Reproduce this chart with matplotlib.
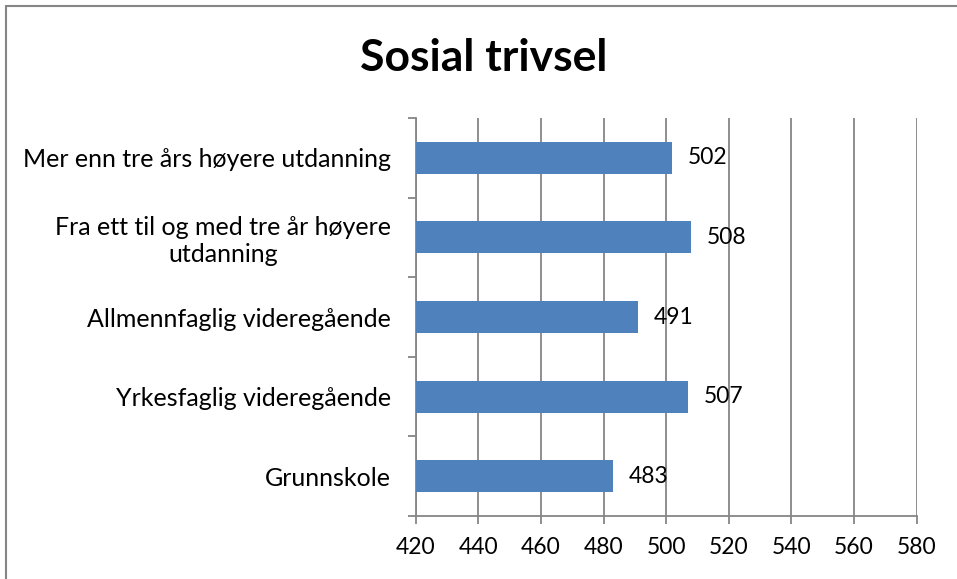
import matplotlib
matplotlib.use("Agg")
import matplotlib.pyplot as plt
from matplotlib.patches import Rectangle

# Sosial trivsel etter utdanningsnivå (bunn til topp)
categories = [
    "Grunnskole",
    "Yrkesfaglig videregående",
    "Allmennfaglig videregående",
    "Fra ett til og med tre år høyere\nutdanning",
    "Mer enn tre års høyere utdanning",
]
values = [483, 507, 491, 508, 502]
xticks = [420, 440, 460, 480, 500, 520, 540, 560, 580]

BAR = "#4F81BD"
GRID = "#868686"
FONT = "Lato"

plt.rcParams["font.family"] = [FONT, "DejaVu Sans"]

fig = plt.figure(figsize=(9.57, 5.79), dpi=100)
ax = fig.add_axes([0.4344, 0.1088, 0.9579 - 0.4344, 0.7962 - 0.1088])

y = list(range(len(categories)))
ax.barh(y, values, height=0.4, color=BAR, zorder=3)
for yi, v in zip(y, values):
    ax.annotate(f"{v}", (v, yi), xytext=(11, 0), textcoords="offset points",
                va="center", ha="left", fontsize=16.5)

ax.set_xlim(420, 580)
ax.set_ylim(-0.5, len(categories) - 0.5)
ax.set_xticks(xticks)
ax.set_yticks(y)
ax.set_yticklabels(categories, multialignment="center")
ax.set_yticks([i - 0.5 for i in range(len(categories) + 1)], minor=True)

ax.tick_params(axis="y", which="major", length=0, pad=18, labelsize=18)
ax.tick_params(axis="y", which="minor", length=6, width=1.3, color=GRID, direction="out")
ax.tick_params(axis="x", length=6, width=1.3, color=GRID, pad=9, labelsize=16.5)

ax.grid(axis="x", color=GRID, linewidth=1.3, zorder=0)
for side in ("top", "right"):
    ax.spines[side].set_visible(False)
for side in ("left", "bottom"):
    ax.spines[side].set_color(GRID)
    ax.spines[side].set_linewidth(1.3)

fig.text(0.505, 0.9, "Sosial trivsel", ha="center", va="center",
         fontsize=32, fontweight="bold")

# ramme rundt diagrammet
fig.patches.append(Rectangle((6 / 957, -0.05), 1.1, 1 - 6 / 579 + 0.05,
                             transform=fig.transFigure, fill=False,
                             edgecolor=GRID, linewidth=1.5))

fig.savefig("out.png", dpi=100)
